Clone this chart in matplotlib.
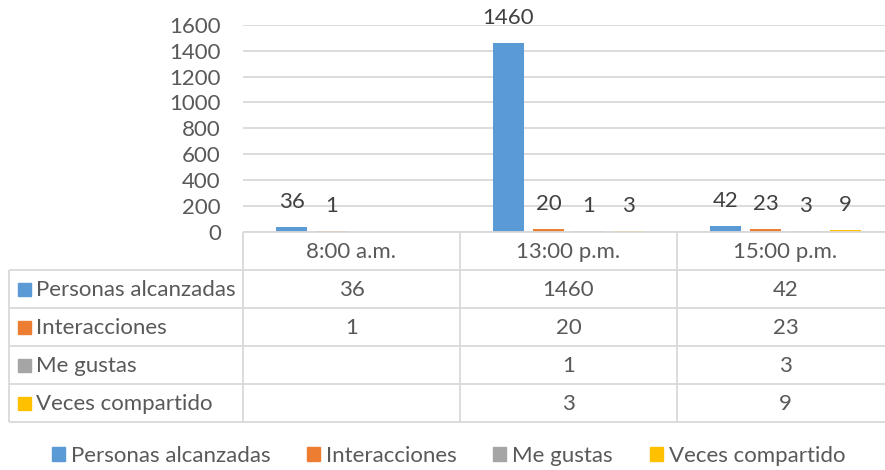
import numpy as np
import matplotlib.pyplot as plt
from matplotlib.patches import Patch, Rectangle

plt.rcParams["font.family"] = ["Lato", "DejaVu Sans"]

# --- data -------------------------------------------------------------------
horas = ["8:00 a.m.", "13:00 p.m.", "15:00 p.m."]
series = ["Personas alcanzadas", "Interacciones", "Me gustas", "Veces compartido"]
personas = [36, 1460, 42]
interacciones = [1, 20, 23]
me_gustas = [None, 1, 3]
compartido = [None, 3, 9]
colores = ["#5B9BD5", "#ED7D31", "#A5A5A5", "#FFC000"]
y_ticks = [0, 200, 400, 600, 800, 1000, 1200, 1400, 1600]

valores = [personas, interacciones, me_gustas, compartido]

# --- layout (pixels of an 885x470 canvas) -----------------------------------
W, H = 885, 470
PX_LEFT, PX_RIGHT = 243, 894      # plot area runs a little past the right edge
PX_TOP, PX_BOTTOM = 25, 231.5
ROW_H = 38.1
LABEL_LEFT = 9
TEXT_C = "#595959"
GRID_C = "#D9D9D9"
FS = 16

fig = plt.figure(figsize=(W / 100, H / 100), dpi=100)
ax = fig.add_axes([PX_LEFT / W, 1 - PX_BOTTOM / H,
                   (PX_RIGHT - PX_LEFT) / W, (PX_BOTTOM - PX_TOP) / H])

x = np.arange(len(horas))
step = 40 / 217
width = 31 / 217
for i, (nombre, vals, c) in enumerate(zip(series, valores, colores)):
    off = (i - 1.5) * step
    for xi, v in zip(x, vals):
        if v is None:
            continue
        ax.bar(xi + off, v, width, color=c, zorder=3)
        ax.annotate(str(v), (xi + off, v), xytext=(0, 18), textcoords="offset points",
                    ha="center", va="center", fontsize=FS, color="#404040")

ax.set_xlim(-0.5, len(horas) - 0.5)
ax.set_ylim(0, 1600)
ax.set_yticks(y_ticks)
ax.set_xticks([])
ax.grid(axis="y", color=GRID_C, lw=1.3, zorder=0)
ax.tick_params(axis="y", length=0, pad=16, labelsize=FS, labelcolor=TEXT_C)
for s in ax.spines.values():
    s.set_visible(False)

# --- data table drawn under the plot ----------------------------------------
tab = fig.add_axes([0, 0, 1, 1], facecolor="none")
tab.set_xlim(0, W)
tab.set_ylim(H, 0)
tab.axis("off")

col_w = (PX_RIGHT - PX_LEFT) / len(horas)
col_edges = [PX_LEFT + k * col_w for k in range(len(horas) + 1)]
row_edges = [PX_BOTTOM + k * ROW_H for k in range(len(series) + 2)]

lk = dict(color=GRID_C, lw=1.3, solid_capstyle="butt")
tab.plot([PX_LEFT, PX_RIGHT], [row_edges[0]] * 2, **lk)
for ry in row_edges[1:]:
    tab.plot([LABEL_LEFT, PX_RIGHT], [ry, ry], **lk)
tab.plot([LABEL_LEFT, LABEL_LEFT], [row_edges[1], row_edges[-1]], **lk)
for cx in col_edges[:-1]:
    tab.plot([cx, cx], [row_edges[0], row_edges[-1]], **lk)

for j, h in enumerate(horas):
    tab.text((col_edges[j] + col_edges[j + 1]) / 2, (row_edges[0] + row_edges[1]) / 2 + 1,
             h, ha="center", va="center", fontsize=FS, color=TEXT_C)

for i, (nombre, vals, c) in enumerate(zip(series, valores, colores)):
    yc = (row_edges[i + 1] + row_edges[i + 2]) / 2 + 1
    tab.add_patch(Rectangle((18, yc - 6.5), 13, 13, color=c))
    tab.text(36, yc, nombre, ha="left", va="center", fontsize=FS, color=TEXT_C)
    for j, v in enumerate(vals):
        if v is None:
            continue
        tab.text((col_edges[j] + col_edges[j + 1]) / 2, yc, str(v),
                 ha="center", va="center", fontsize=FS, color=TEXT_C)

handles = [Patch(color=c, label=n) for n, c in zip(series, colores)]
fig.legend(handles=handles, loc="center", bbox_to_anchor=(448.5 / W, 1 - 456 / H),
           ncol=4, frameon=False, fontsize=FS, labelcolor=TEXT_C,
           handlelength=0.58, handleheight=0.58, handletextpad=0.27, columnspacing=1.65)

fig.savefig("out.png", dpi=100)
